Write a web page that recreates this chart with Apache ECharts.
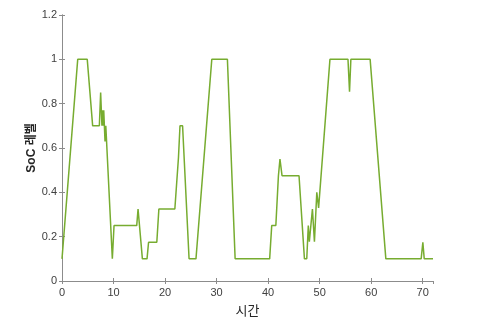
<!DOCTYPE html>
<html>
<head>
<meta charset="utf-8">
<script src="https://cdn.jsdelivr.net/npm/echarts@6/dist/echarts.min.js"></script>
<style>
  html, body { margin: 0; padding: 0; background: #fff; }
  #chart { width: 479px; height: 321px; }
</style>
</head>
<body>
<div id="chart"></div>
<script>
// time (hours) and SoC level
const timeValues = [0, 3.05, 4.9, 5.95, 7.25, 7.5, 7.75, 7.9, 8.0, 8.1, 8.35, 8.5, 8.7, 9.77, 10.1, 14.5, 14.76, 15.6, 16.5, 16.8, 18.4, 18.8, 21.9, 22.6, 22.9, 23.4, 24.66, 26.0, 29.07, 32.1, 33.6, 40.3, 40.7, 41.5, 42.0, 42.3, 42.7, 46.0, 47.05, 47.5, 47.8, 48.0, 48.6, 48.99, 49.45, 49.8, 52.0, 55.5, 55.8, 56.06, 59.8, 62.85, 69.7, 70.03, 70.3, 72];
const socValues = [0.1, 1, 1, 0.7, 0.7, 0.85, 0.7, 0.77, 0.7, 0.77, 0.63, 0.7, 0.7, 0.1, 0.25, 0.25, 0.325, 0.1, 0.1, 0.175, 0.175, 0.325, 0.325, 0.556, 0.7, 0.7, 0.1, 0.1, 1, 1, 0.1, 0.1, 0.25, 0.25, 0.475, 0.55, 0.475, 0.475, 0.1, 0.1, 0.25, 0.177, 0.325, 0.177, 0.4, 0.33, 1, 1, 0.854, 1, 1, 0.1, 0.1, 0.175, 0.1, 0.1];

const xLabel = "시간";
const yLabel = "SoC 레벨";

const chart = echarts.init(document.getElementById("chart"));

const axisGray = "#8c8c8c";
const labelGray = "#404040";
const font = "'Liberation Sans', Arial, sans-serif";

const option = {
  animation: false,
  grid: { left: 62, right: 46, top: 15, bottom: 40, outerBoundsMode: "none" },
  xAxis: [
    {
      type: "value",
      min: 0,
      max: 72,
      interval: 10,
      name: xLabel,
      nameLocation: "middle",
      nameGap: 23,
      nameMoveOverlap: false,
      nameTextStyle: { color: "#262626", fontSize: 13, fontFamily: "'Noto Sans CJK KR', sans-serif" },
      axisLine: { show: true, lineStyle: { color: axisGray, width: 1 } },
      axisTick: { show: true, inside: true, length: 3, lineStyle: { color: axisGray } },
      axisLabel: { color: labelGray, fontSize: 11, fontFamily: font, margin: 6, showMaxLabel: false },
      splitLine: { show: false }
    },
    {
      type: "value",
      position: "top",
      min: 0,
      max: 72,
      interval: 10,
      axisLine: { show: true, lineStyle: { color: axisGray, width: 1 } },
      axisTick: { show: true, inside: true, length: 3, lineStyle: { color: axisGray } },
      axisLabel: { show: false },
      splitLine: { show: false }
    }
  ],
  yAxis: [
    {
      type: "value",
      min: 0,
      max: 1.2,
      interval: 0.2,
      name: yLabel,
      nameLocation: "middle",
      nameGap: 24,
      nameMoveOverlap: false,
      nameTextStyle: { color: "#262626", fontSize: 12, fontWeight: "bold", fontFamily: "'Liberation Sans', 'Noto Sans CJK KR', sans-serif" },
      axisLine: { show: true, lineStyle: { color: axisGray, width: 1 } },
      axisTick: { show: true, inside: true, length: 3, lineStyle: { color: axisGray } },
      axisLabel: { color: labelGray, fontSize: 11, fontFamily: font, margin: 5 },
      splitLine: { show: false }
    },
    {
      type: "value",
      position: "right",
      min: 0,
      max: 1.2,
      interval: 0.2,
      axisLine: { show: true, lineStyle: { color: axisGray, width: 1 } },
      axisTick: { show: true, inside: true, length: 3, lineStyle: { color: axisGray } },
      axisLabel: { show: false },
      splitLine: { show: false }
    }
  ],
  series: [
    {
      type: "line",
      data: timeValues.map((t, i) => [t, socValues[i]]),
      showSymbol: false,
      color: "#77AC30",
      lineStyle: { width: 1.5, color: "#77AC30" }
    }
  ]
};

chart.setOption(option);
</script>
</body>
</html>
